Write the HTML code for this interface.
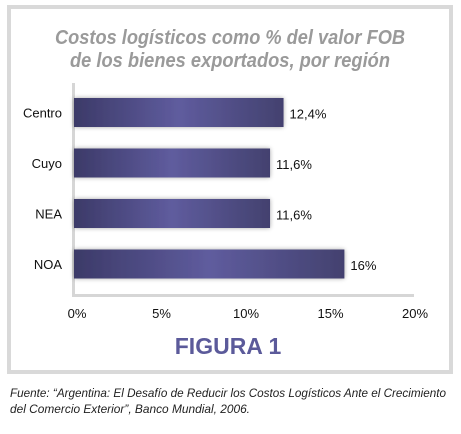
<!DOCTYPE html>
<html><head><meta charset="utf-8"><style>
html,body{margin:0;padding:0;background:#fff;width:461px;height:434px;overflow:hidden}
svg{display:block;font-family:"Liberation Sans",sans-serif}
</style></head><body>
<svg id="chart" width="461" height="434" viewBox="0 0 461 434">
<defs>
<linearGradient id="bg" x1="0" x2="1" y1="0" y2="0">
<stop offset="0" stop-color="#3c3a68"/><stop offset="0.5" stop-color="#5f5c9e"/><stop offset="1" stop-color="#43416f"/>
</linearGradient>
<filter id="sh" x="-10%" y="-30%" width="120%" height="160%"><feGaussianBlur in="SourceAlpha" stdDeviation="2.5"/><feOffset dx="0" dy="0"/><feComponentTransfer><feFuncA type="linear" slope="0.35"/></feComponentTransfer><feMerge><feMergeNode/><feMergeNode in="SourceGraphic"/></feMerge></filter>
</defs>
<rect x="9" y="7" width="442" height="365" fill="#fff" stroke="#d9d9d9" stroke-width="4"/>
<g fill="#9a9a9a" font-style="italic" font-weight="bold" font-size="20" text-anchor="middle">
<text x="230" y="44" textLength="350" lengthAdjust="spacingAndGlyphs">Costos logísticos como % del valor FOB</text>
<text x="230" y="67" textLength="320" lengthAdjust="spacingAndGlyphs">de los bienes exportados, por región</text>
</g>
<line x1="73.5" y1="83" x2="73.5" y2="296" stroke="#d6d6d6" stroke-width="3"/>
<line x1="72" y1="295.5" x2="414" y2="295.5" stroke="#d6d6d6" stroke-width="3"/>
<g id="bars"></g>
<g id="ticks"></g>
<text x="228" y="354" text-anchor="middle" font-size="23" font-weight="bold" fill="#5b5a9a">FIGURA 1</text>
<g font-style="italic" font-size="12" fill="#222">
<text x="10" y="397" textLength="436" lengthAdjust="spacingAndGlyphs">Fuente: “Argentina: El Desafío de Reducir los Costos Logísticos Ante el Crecimiento</text>
<text x="10" y="413" textLength="240" lengthAdjust="spacingAndGlyphs">del Comercio Exterior”, Banco Mundial, 2006.</text>
</g>
</svg>
<script>
const categories = ["Centro","Cuyo","NEA","NOA"];
const values = [12.4, 11.6, 11.6, 16];
const valueLabels = ["12,4%","11,6%","11,6%","16%"];
const tickValues = [0,5,10,15,20];
const tickLabels = ["0%","5%","10%","15%","20%"];
const NS="http://www.w3.org/2000/svg";
const x0=74, x1=412, xmax=20;
function xs(v){return x0+(x1-x0)*v/xmax;}
function ys(i){return 98+i*50.5;}
const bh=29;
const bars=document.getElementById('bars');
categories.forEach((c,i)=>{
  const r=document.createElementNS(NS,'rect');
  r.setAttribute('x',xs(0));r.setAttribute('y',ys(i));
  r.setAttribute('width',xs(values[i])-xs(0));r.setAttribute('height',bh);
  r.setAttribute('fill','url(#bg)');r.setAttribute('filter','url(#sh)');
  
  
  bars.appendChild(r);
  const t=document.createElementNS(NS,'text');
  t.setAttribute('x',62);t.setAttribute('y',ys(i)+bh/2+5);
  t.setAttribute('text-anchor','end');t.setAttribute('font-size','13');t.setAttribute('fill','#111');
  t.textContent=c;
  
  
  bars.appendChild(t);
  const v=document.createElementNS(NS,'text');
  v.setAttribute('x',xs(values[i])+6);v.setAttribute('y',ys(i)+bh/2+6);
  v.setAttribute('font-size','13');v.setAttribute('fill','#111');
  v.textContent=valueLabels[i];
  
  
  bars.appendChild(v);
});
const ticks=document.getElementById('ticks');
tickValues.forEach((tv,i)=>{
  const t=document.createElementNS(NS,'text');
  t.setAttribute('x',xs(tv)+3);t.setAttribute('y',318);
  t.setAttribute('text-anchor','middle');t.setAttribute('font-size','13');t.setAttribute('fill','#111');
  t.textContent=tickLabels[i];
  
  
  ticks.appendChild(t);
});
</script>
</body></html>
